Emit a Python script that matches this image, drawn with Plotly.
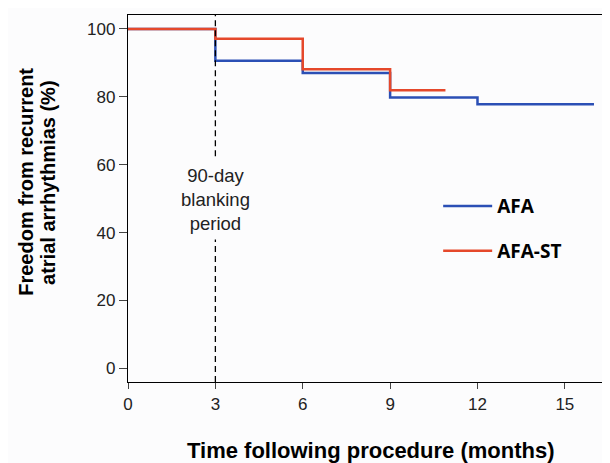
import plotly.graph_objects as go

# Data
months_afa = [0, 3, 6, 9, 12, 16]
afa = [100, 90.6, 87.0, 79.8, 77.8, 77.8]
months_st = [0, 3, 6, 9, 10.9]
afa_st = [100, 97.1, 88.1, 81.9, 81.9]
x_ticks = [0, 3, 6, 9, 12, 15]
y_ticks = [0, 20, 40, 60, 80, 100]
blanking_month = 3

BLUE = "#2b4fb5"
RED = "#e5482b"
BG = "#fcfcfd"
FONT = "Liberation Sans, Arial"

fig = go.Figure()
fig.add_trace(go.Scatter(x=months_afa, y=afa, mode="lines", name="AFA",
                         line=dict(color=BLUE, width=2.5, shape="hv"),
                         legendgroup="a"))
fig.add_trace(go.Scatter(x=months_st, y=afa_st, mode="lines", name="AFA-ST",
                         line=dict(color=RED, width=2.5, shape="hv"),
                         legendgroup="b"))

# Dashed blanking line, split around the label
dash_style = dict(color="black", width=1.3, dash="6px,4px")
fig.add_shape(type="line", x0=blanking_month, x1=blanking_month, y0=62.5, y1=104.1,
              xref="x", yref="y", line=dash_style)
fig.add_shape(type="line", x0=blanking_month, x1=blanking_month, y0=-4, y1=38,
              xref="x", yref="y", line=dash_style)

fig.add_annotation(x=blanking_month, y=49.8, xref="x", yref="y",
                   text="90-day<br>blanking<br>period", showarrow=False,
                   font=dict(family=FONT, size=18.5, color="#222222"),
                   align="center")

# Axis titles as annotations
title_font = dict(family=FONT, size=20, color="black", weight="bold")
fig.add_annotation(x=-0.212, y=0.545, xref="paper", yref="paper",
                   text="Freedom from recurrent", textangle=-90, showarrow=False,
                   font=title_font, xanchor="center", yanchor="middle")
fig.add_annotation(x=-0.166, y=0.545, xref="paper", yref="paper",
                   text="atrial arrhythmias (%)", textangle=-90, showarrow=False,
                   font=title_font, xanchor="center", yanchor="middle")
fig.add_annotation(x=0.504, y=-0.188, xref="paper", yref="paper",
                   text="Time following procedure (months)", showarrow=False,
                   font=dict(family=FONT, size=22, color="black", weight="bold"),
                   xanchor="center", yanchor="middle", borderpad=0)

# The page adds an 8px body margin, so the figure is 8px smaller than the window
fig.update_layout(
    width=602, height=455,
    margin=dict(l=120, r=0, t=7, b=81),
    paper_bgcolor=BG, plot_bgcolor=BG,
    showlegend=True,
    legend=dict(x=0.6435, y=0.531, xanchor="left", yanchor="top",
                bgcolor="rgba(0,0,0,0)", tracegroupgap=17,
                font=dict(family="Open Sans, Liberation Sans", size=19, color="black", weight="bold"),
                itemwidth=49),
    xaxis=dict(range=[0, 16.55], tickvals=x_ticks, showgrid=False, zeroline=False,
               showline=True, linecolor="black", linewidth=1.3, mirror=True,
               ticks="outside", ticklen=6, tickcolor="#444", tickwidth=1,
               tickfont=dict(family=FONT, size=17, color="#222"), automargin=False),
    yaxis=dict(range=[-4, 104.1], tickvals=y_ticks, showgrid=False, zeroline=False,
               showline=True, linecolor="black", linewidth=1.3,
               ticks="outside", ticklen=8, tickcolor="#444", tickwidth=1,
               tickfont=dict(family=FONT, size=17, color="#222"), automargin=False),
)

fig.write_html("out.html")
